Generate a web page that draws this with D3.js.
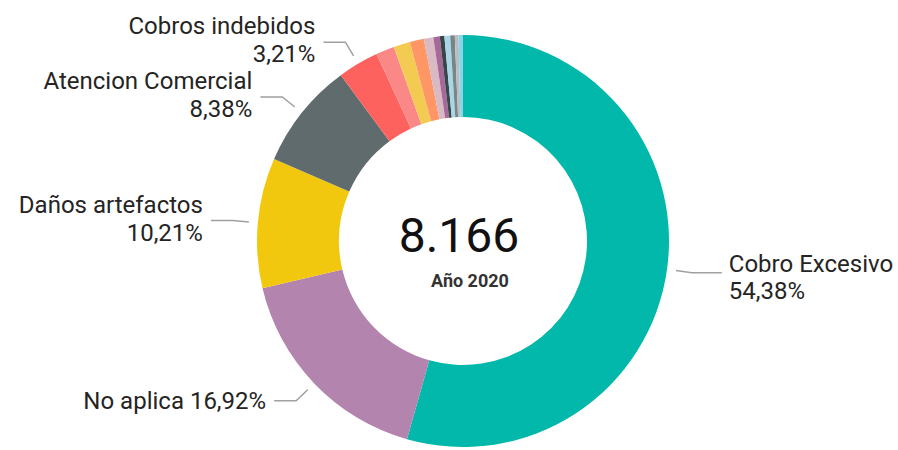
<!DOCTYPE html>
<html>
<head>
<meta charset="utf-8">
<script src="https://cdn.jsdelivr.net/npm/d3@7"></script>
<style>
  body { margin: 0; background: #fff; }
  text { font-family: Roboto, "Noto Sans", sans-serif; }
</style>
</head>
<body>
<div id="vis"></div>
<script>
(function() {
    var width = 898,
        height = 450;

    // data
    var categories = ["Cobro Excesivo", "No aplica", "Daños artefactos", "Atencion Comercial", "Cobros indebidos",
        "Otro 1", "Otro 2", "Otro 3", "Otro 4", "Otro 5", "Otro 6", "Otro 7", "Otro 8", "Otro 9", "Otro 10"];
    var counts = [4441, 1382, 834, 684, 262, 118, 106, 90, 61, 41, 29, 37, 29, 24, 28];
    var labelled = ["Cobro Excesivo", "No aplica", "Daños artefactos", "Atencion Comercial", "Cobros indebidos"];
    var inlineLabel = ["No aplica"];
    var subtitle = "Año 2020";

    var colors = ["#01B8AA", "#B384AD", "#F2C80F", "#5F6B6D", "#FD625E",
        "#F98886", "#F3CB52", "#FE9666", "#D9B9C3", "#A66999",
        "#374649", "#A7D6E6", "#7A8587", "#B7BFC1", "#8AD4EB"];

    var es = d3.formatLocale({decimal: ",", thousands: ".", grouping: [3], currency: ["", "€"]});
    var fmtPct = es.format(".2%");
    var fmtInt = es.format(",d");

    var data = categories.map(function(c, i) { return {name: c, value: counts[i], color: colors[i]}; });
    var total = d3.sum(counts);

    var cx = 463, cy = 241, outerR = 206, innerR = 124;
    var fontSize = 24;

    var svg = d3.select("#vis")
        .append("svg")
        .attr("width", width)
        .attr("height", height)
        .append("g")
        .attr("transform", "translate(" + cx + "," + cy + ")");

    var pie = d3.pie().sort(null).value(function(d) { return d.value; });
    var arc = d3.arc().innerRadius(innerR).outerRadius(outerR);
    var arcs = pie(data);

    svg.selectAll(".slice")
        .data(arcs)
        .enter().append("path")
        .attr("class", "slice")
        .attr("d", arc)
        .attr("fill", function(d) { return d.data.color; });

    function polar(r, a) { return [r * Math.sin(a), -r * Math.cos(a)]; }

    var labels = arcs.filter(function(d) { return labelled.indexOf(d.data.name) >= 0; });

    labels.forEach(function(d) {
        var mid = (d.startAngle + d.endAngle) / 2;
        var right = Math.sin(mid) > 0;
        var p0 = polar(outerR + 9, mid);
        var p1 = polar(outerR + 25, mid);
        var endX = right ? p1[0] + 30 : p1[0] - 22;
        var y = p1[1];

        svg.append("polyline")
            .attr("points", [p0, p1, [endX, y]].map(function(p) { return p.join(","); }).join(" "))
            .attr("fill", "none")
            .attr("stroke", "#a0a0a0")
            .attr("stroke-width", 1.5);

        var tx = right ? endX + 7 : endX - 8;
        var anchor = right ? "start" : "end";
        var pct = fmtPct(d.data.value / total);
        var dy1 = right ? -1 : -8,
            dy2 = right ? 26 : 20;

        if (inlineLabel.indexOf(d.data.name) >= 0) {
            svg.append("text")
                .attr("x", tx).attr("y", y + 8)
                .attr("text-anchor", anchor)
                .attr("font-size", fontSize)
                .attr("fill", "#252423")
                .text(d.data.name + " " + pct);
        } else {
            svg.append("text")
                .attr("x", tx).attr("y", y + dy1)
                .attr("text-anchor", anchor)
                .attr("font-size", fontSize)
                .attr("fill", "#252423")
                .text(d.data.name);
            svg.append("text")
                .attr("x", tx).attr("y", y + dy2)
                .attr("text-anchor", anchor)
                .attr("font-size", fontSize)
                .attr("fill", "#252423")
                .text(pct);
        }
    });

    svg.append("text")
        .attr("x", -4).attr("y", 11)
        .attr("text-anchor", "middle")
        .attr("font-size", 48)
        .attr("font-weight", 400)
        .attr("fill", "#111")
        .text(fmtInt(total));

    svg.append("text")
        .attr("x", 7).attr("y", 46)
        .attr("text-anchor", "middle")
        .attr("font-size", 18)
        .attr("font-weight", 700)
        .attr("fill", "#333")
        .text(subtitle);
})();
</script>
</body>
</html>
